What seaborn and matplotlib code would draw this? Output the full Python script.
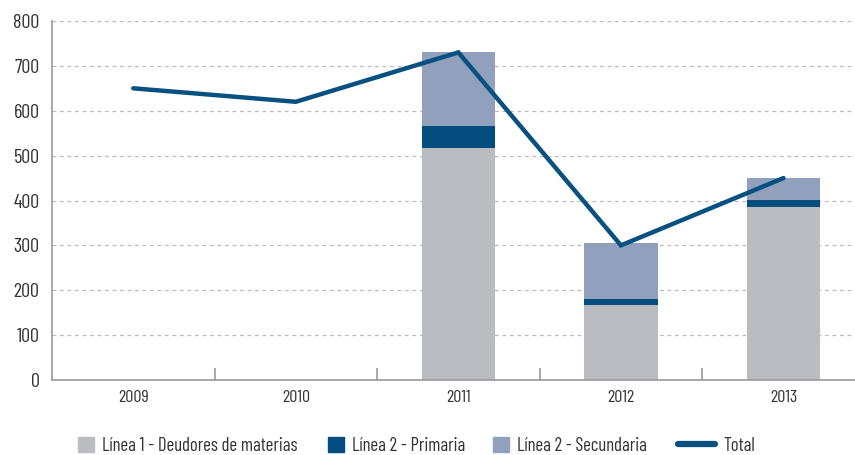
import matplotlib
matplotlib.use("Agg")
import matplotlib.pyplot as plt
import seaborn as sns
import pandas as pd
import numpy as np
from matplotlib.patches import Patch
from matplotlib.lines import Line2D

years = ["2009", "2010", "2011", "2012", "2013"]
linea1 = [0, 0, 517, 167, 385]
linea2_primaria = [0, 0, 49, 13, 17]
linea2_secundaria = [0, 0, 164, 126, 48]
total = [650, 620, 730, 300, 450]
series_labels = ["Línea 1 - Deudores de materias", "Línea 2 - Primaria",
                 "Línea 2 - Secundaria", "Total"]

c_l1 = "#BBBCC1"
c_prim = "#034E7E"
c_sec = "#91A0BC"
c_tot = "#08507F"

sns.set_theme(style="white")
plt.rcParams['font.family'] = ['Barlow Condensed', 'DejaVu Sans']
plt.rcParams['font.weight'] = 'normal'

df = pd.DataFrame({"year": years, "l1": linea1, "prim": linea2_primaria,
                   "sec": linea2_secundaria, "total": total})
df["cum2"] = df["l1"] + df["prim"]
df["cum3"] = df["cum2"] + df["sec"]

fig = plt.figure(figsize=(8.55, 4.55), dpi=100)
ax = fig.add_axes([52/855, (455-380)/455, (855-52)/855, (380-21)/455])

for col, color in [("cum3", c_sec), ("cum2", c_prim), ("l1", c_l1)]:
    sns.barplot(data=df, x="year", y=col, order=years, color=color,
                width=0.45, saturation=1, ax=ax, zorder=2, linewidth=0)

sns.lineplot(x=np.arange(len(years)), y=df["total"], color=c_tot,
             linewidth=3.2, ax=ax, zorder=4, solid_capstyle="round",
             solid_joinstyle="miter")

ax.set_xlim(-0.5, 4.44)
ax.set_ylim(0, 800)
ax.set_yticks(range(0, 801, 100))
ax.set_xlabel("")
ax.set_ylabel("")
ax.yaxis.grid(True, linestyle=(0, (3, 3)), color="#BBBBBB", linewidth=0.9, zorder=0)
ax.set_axisbelow(True)

for s in ["top", "right"]:
    ax.spines[s].set_visible(False)
for s in ["left", "bottom"]:
    ax.spines[s].set_color("#999999")
    ax.spines[s].set_linewidth(1.2)

ax.tick_params(axis="y", length=0, labelsize=14.5, colors="#333333", pad=9)
ax.tick_params(axis="x", length=0, labelsize=13, colors="#333333", pad=7)
ax.set_xticks(range(len(years)))
ax.set_xticklabels(years)
ax.set_xticks([0.5, 1.5, 2.5, 3.5], minor=True)
ax.tick_params(axis="x", which="minor", direction="in", length=9, bottom=True,
               color="#999999", width=1.2)

# legend entries placed individually, to match the reference spacing
handles = [Patch(color=c_l1), Patch(color=c_prim), Patch(color=c_sec),
           Line2D([], [], color=c_tot, linewidth=4.5, solid_capstyle="round")]
starts = [78, 328, 493, 678]
hlens = [0.85, 0.85, 0.85, 1.95]
for h, lab, x0, hl in zip(handles, series_labels, starts, hlens):
    fig.legend([h], [lab], loc="center left", bbox_to_anchor=(x0/855, 1 - 446/455),
               frameon=False, fontsize=13.5, handlelength=hl, handleheight=0.85,
               handletextpad=0.45, borderpad=0, borderaxespad=0,
               labelcolor="#333333")

fig.savefig("out.png", dpi=100)
